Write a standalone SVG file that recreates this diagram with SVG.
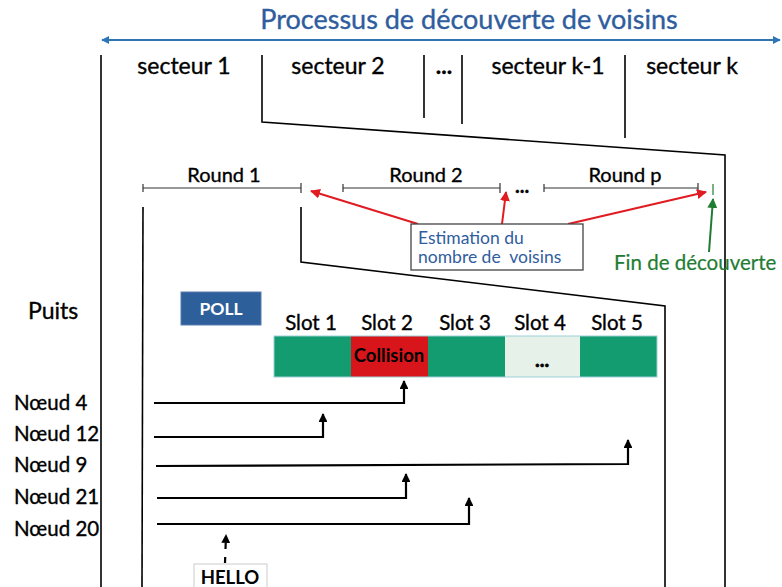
<svg xmlns="http://www.w3.org/2000/svg" width="782" height="587" viewBox="0 0 782 587">
<defs>
<style>
.t{font-family:Lato,"Open Sans","Liberation Sans",sans-serif;fill:#000;stroke:#000;stroke-width:0.35}
.ln{stroke:#000;stroke-width:1.6;fill:none}
.ar{stroke:#000;stroke-width:2.2;fill:none}
.rd{stroke:#E01B22;stroke-width:2;fill:none}
.tk{stroke:#333;stroke-width:1.2;fill:none}
.dots{font-weight:bold}
</style>
<marker id="ab" viewBox="0 0 10 10" refX="9" refY="5" markerWidth="4" markerHeight="4" orient="auto"><path d="M0,0 L10,5 L0,10 z" fill="#000"/></marker>
<marker id="ar" viewBox="0 0 10 10" refX="9" refY="5" markerWidth="5" markerHeight="5" orient="auto"><path d="M0,0 L10,5 L0,10 z" fill="#E01B22"/></marker>
<marker id="ag" viewBox="0 0 10 10" refX="9" refY="5" markerWidth="5" markerHeight="5" orient="auto"><path d="M0,0 L10,5 L0,10 z" fill="#1E7D32"/></marker>
<marker id="abl" viewBox="0 0 10 10" refX="9" refY="5" markerWidth="4" markerHeight="4" orient="auto-start-reverse"><path d="M0,0 L10,5 L0,10 z" fill="#2E75B6"/></marker>
</defs>
<rect width="782" height="587" fill="#fff"/>

<g id="title">
<text x="469" y="29" text-anchor="middle" class="t" style="fill:#2F5D9E;stroke:#2F5D9E;font-size:27px">Processus de découverte de voisins</text>
<line x1="102" y1="40" x2="780" y2="40" stroke="#2E75B6" stroke-width="2" marker-start="url(#abl)" marker-end="url(#abl)"/>
</g>

<g id="secteurs" class="t" style="font-size:23px" text-anchor="middle">
<text x="184" y="74">secteur 1</text>
<text x="338" y="74">secteur 2</text>
<text x="444" y="74" class="dots">...</text>
<text x="548" y="74">secteur k-1</text>
<text x="692" y="74">secteur k</text>
</g>

<g id="connectors">
<line class="ln" x1="101" y1="55" x2="101" y2="587"/>
<polyline class="ln" points="262,55 262,122 725,155 725,587"/>
<line class="ln" x1="424" y1="55" x2="424" y2="118"/>
<line class="ln" x1="462" y1="55" x2="462" y2="124"/>
<line class="ln" x1="625" y1="55" x2="625" y2="138"/>
<line class="ln" x1="143" y1="207" x2="142" y2="587"/>
<polyline class="ln" points="301,207 301,262 665,306 665,587"/>

<line class="tk" x1="143" y1="188" x2="301" y2="188"/>
<line class="tk" x1="143" y1="184" x2="143" y2="192"/>
<line class="tk" x1="301" y1="183" x2="301" y2="193"/>
<line class="tk" x1="343" y1="188" x2="500" y2="188"/>
<line class="tk" x1="343" y1="184" x2="343" y2="192"/>
<line class="tk" x1="500" y1="183" x2="500" y2="193"/>
<line class="tk" x1="544" y1="188" x2="698" y2="188"/>
<line class="tk" x1="544" y1="184" x2="544" y2="192"/>
<line class="tk" x1="698" y1="183" x2="698" y2="193"/>
<line x1="713" y1="184" x2="713" y2="195" stroke="#1E7D32" stroke-width="1.2"/>

<line class="rd" x1="418" y1="224" x2="311" y2="191" marker-end="url(#ar)"/>
<line class="rd" x1="502" y1="224" x2="506" y2="192" marker-end="url(#ar)"/>
<line class="rd" x1="568" y1="224" x2="706" y2="192" marker-end="url(#ar)"/>
<line x1="709" y1="252" x2="713" y2="199" stroke="#1E7D32" stroke-width="2" marker-end="url(#ag)"/>

<polyline class="ar" points="154,403 404,403 404,381" marker-end="url(#ab)"/>
<polyline class="ar" points="154,437 323,437 323,414" marker-end="url(#ab)"/>
<polyline class="ar" points="156,466 628,464 628,440" marker-end="url(#ab)"/>
<polyline class="ar" points="157,498 406,498 406,474" marker-end="url(#ab)"/>
<polyline class="ar" points="157,524 469,524 469,498" marker-end="url(#ab)"/>
<line class="ar" x1="225" y1="563" x2="226" y2="535" stroke-dasharray="6,8" marker-end="url(#ab)"/>
</g>

<g id="rounds" class="t" style="font-size:20px" text-anchor="middle">
<text x="224" y="182">Round 1</text>
<text x="426" y="182">Round 2</text>
<text x="522" y="193" class="dots">...</text>
<text x="625" y="182">Round p</text>
</g>

<g id="estimation">
<rect x="411" y="224" width="172" height="46" fill="#fff" stroke="#444" stroke-width="1.3"/>
<text x="418" y="244" class="t" style="fill:#2F5D9E;stroke:none;font-size:17.5px">Estimation du</text>
<text x="418" y="263" class="t" style="fill:#2F5D9E;stroke:none;font-size:17.5px" xml:space="preserve">nombre de  voisins</text>
</g>

<g id="fin">
<text x="614" y="270" class="t" style="fill:#1E7D32;stroke:#1E7D32;stroke-width:0.2;font-size:20.5px">Fin de découverte</text>
</g>

<g id="puits">
<text x="28" y="319" class="t" style="font-size:23px">Puits</text>
</g>

<g id="poll">
<rect x="181" y="292" width="80" height="33" fill="#2D5F9A" stroke="#5A7FB0" stroke-width="1"/>
<text x="221" y="315" text-anchor="middle" class="t" style="fill:#fff;stroke:none;font-size:17.5px;font-weight:bold">POLL</text>
</g>

<g id="slots" class="t" style="font-size:20.5px" text-anchor="middle">
<text x="311" y="330">Slot 1</text>
<text x="387" y="330">Slot 2</text>
<text x="465" y="330">Slot 3</text>
<text x="540" y="330">Slot 4</text>
<text x="617" y="330">Slot 5</text>
</g>

<g id="bar">
<rect x="274" y="336" width="77" height="41" fill="#129C6F"/>
<rect x="351" y="336" width="77" height="41" fill="#D9151C"/>
<rect x="428" y="336" width="77" height="41" fill="#129C6F"/>
<rect x="505" y="336" width="75" height="41" fill="#E6F1E9"/>
<rect x="580" y="336" width="77" height="41" fill="#129C6F"/>
<rect x="274" y="336" width="383" height="41" fill="none" stroke="#9ccfd8" stroke-width="1"/>
<text x="389" y="362" text-anchor="middle" class="t" style="font-size:18.5px;font-weight:bold;stroke:none">Collision</text>
<text x="542" y="367" text-anchor="middle" class="t" style="font-size:20px;font-weight:bold;stroke-width:0.6">...</text>
</g>

<g id="noeuds" class="t" style="font-size:20.5px">
<text x="14" y="410">Nœud 4</text>
<text x="14" y="441">Nœud 12</text>
<text x="14" y="472">Nœud 9</text>
<text x="14" y="504">Nœud 21</text>
<text x="14" y="536">Nœud 20</text>
</g>

<g id="hello">
<rect x="194" y="564" width="73" height="30" fill="#fff" stroke="#ccc" stroke-width="1"/>
<text x="230" y="584" text-anchor="middle" class="t" style="font-size:18.5px;font-weight:bold;stroke:none">HELLO</text>
</g>
</svg>
